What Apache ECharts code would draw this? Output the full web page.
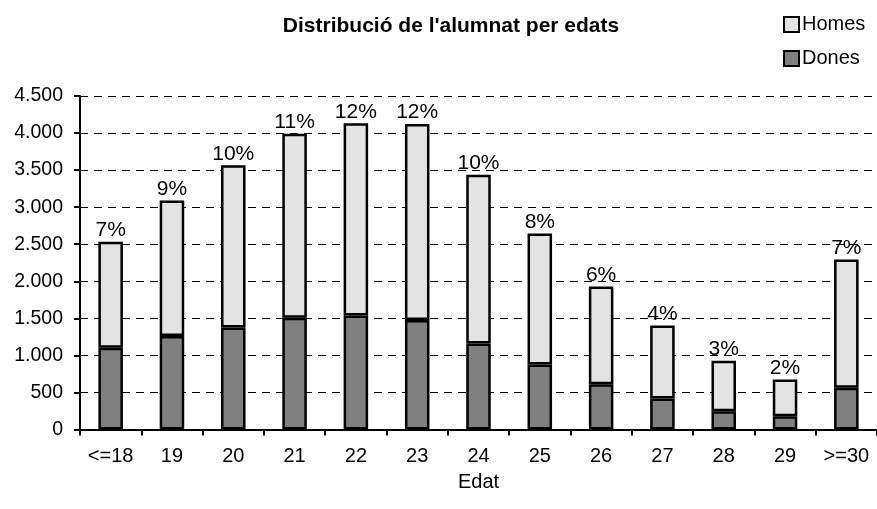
<!DOCTYPE html>
<html>
<head>
<meta charset="utf-8">
<script src="https://cdn.jsdelivr.net/npm/echarts@6/dist/echarts.min.js"></script>
<style>
  html, body { margin: 0; padding: 0; background: #fff; }
  #chart { width: 877px; height: 509px; }
</style>
</head>
<body>
<div id="chart"></div>
<script>
// categories (edat)
const categories = ['<=18', '19', '20', '21', '22', '23', '24', '25', '26', '27', '28', '29', '>=30']
// dones (part de baix)
const dones = [1102, 1260, 1377, 1507, 1539, 1476, 1161, 877, 612, 418, 247, 180, 562]
// homes (part de dalt)
const homes = [1431, 1831, 2187, 2484, 2592, 2646, 2276, 1769, 1318, 986, 679, 495, 1733]
// percentatges damunt de cada barra
const pctLabels = ['7%', '9%', '10%', '11%', '12%', '12%', '10%', '8%', '6%', '4%', '3%', '2%', '7%']

const font = 'Liberation Sans, Arial, sans-serif'

// 4500 -> 4.500
function fmt (v) {
  return String(v).replace(/\B(?=(\d{3})+(?!\d))/g, '.')
}

const chart = echarts.init(document.getElementById('chart'))
chart.setOption({
  animation: false,
  title: {
    text: "Distribució de l'alumnat per edats",
    left: 446,
    textAlign: 'center',
    top: 11,
    textStyle: { fontFamily: font, fontSize: 21, fontWeight: 'bold', color: '#000' }
  },
  legend: {
    orient: 'vertical',
    left: 783,
    top: 13,
    padding: 0,
    itemGap: 11,
    itemWidth: 15,
    itemHeight: 15,
    icon: 'rect',
    data: ['Homes', 'Dones'],
    textStyle: { fontFamily: font, fontSize: 20, color: '#000', padding: [0, 0, 0, -2], lineHeight: 23 }
  },
  grid: {
    left: 80,
    top: 96,
    width: 800,
    bottom: 79.5
  },
  xAxis: {
    type: 'category',
    data: categories,
    name: 'Edat',
    nameLocation: 'middle',
    nameGap: 43,
    nameTextStyle: { fontFamily: font, fontSize: 20, color: '#000' },
    axisLine: { lineStyle: { color: '#000', width: 2 } },
    axisTick: { show: true, length: 6, lineStyle: { color: '#000', width: 2 } },
    axisLabel: { fontFamily: font, fontSize: 20, color: '#000', margin: 17 }
  },
  yAxis: {
    type: 'value',
    min: 0,
    max: 4500,
    interval: 500,
    axisLine: { show: true, lineStyle: { color: '#000', width: 2 } },
    axisTick: { show: true, length: 6, lineStyle: { color: '#000', width: 2 } },
    axisLabel: { fontFamily: font, fontSize: 19.5, color: '#000', margin: 17, formatter: fmt },
    splitLine: { lineStyle: { color: '#000', type: [8, 6], width: 1 } }
  },
  series: [
    {
      name: 'Dones',
      type: 'bar',
      stack: 'total',
      barWidth: '40%',
      data: dones,
      itemStyle: { color: '#808080', borderColor: '#000', borderWidth: 2.5 }
    },
    {
      name: 'Homes',
      type: 'bar',
      stack: 'total',
      barWidth: '40%',
      data: homes,
      itemStyle: { color: '#e3e3e3', borderColor: '#000', borderWidth: 2.5 },
      label: {
        show: true,
        position: 'top',
        distance: 1,
        fontFamily: font,
        fontSize: 21,
        color: '#000',
        formatter: p => pctLabels[p.dataIndex]
      }
    }
  ]
})
</script>
</body>
</html>
